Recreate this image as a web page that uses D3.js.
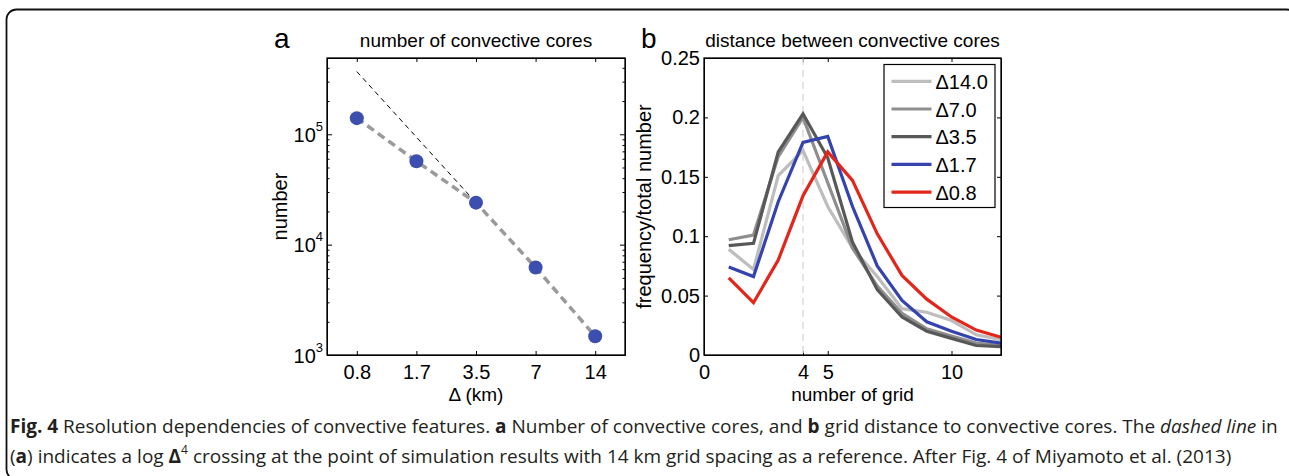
<!DOCTYPE html>
<html>
<head>
<meta charset="utf-8">
<script src="https://cdn.jsdelivr.net/npm/d3@7"></script>
<style>
  html, body { margin: 0; padding: 0; background: #fff; }
  svg { display: block; }
  .ax text { font-family: "Liberation Sans", Arial, sans-serif; font-size: 20px; fill: #000; }
  .ax line, .ax path { stroke: #000; stroke-width: 1; }
</style>
</head>
<body>
<div id="chart"></div>
<script>
// panel a: number of convective cores
const deltaKm = ['0.8', '1.7', '3.5', '7', '14'];
const coreCount = [1.40e5, 5.7e4, 2.4e4, 6.2e3, 1.48e3];
const refDelta = ['0.8', '3.5']; // black dashed reference
const refCount = [3.7e5, 2.4e4];
const logTicks = [1e3, 1e4, 1e5];

// panel b: distance between convective cores
const gridNum = [1, 2, 3, 4, 5, 6, 7, 8, 9, 10, 11, 12];
const seriesNames = ['\u039414.0', '\u03947.0', '\u03943.5', '\u03941.7', '\u03940.8'];
const seriesColors = ['#bdbdbd', '#8e8e8e', '#585858', '#3443ad', '#e2261b'];
const freq140 = [0.089, 0.072, 0.151, 0.172, 0.125, 0.090, 0.066, 0.039, 0.036, 0.029, 0.017, 0.013];
const freq70  = [0.097, 0.101, 0.167, 0.200, 0.145, 0.090, 0.058, 0.035, 0.022, 0.016, 0.010, 0.008];
const freq35  = [0.092, 0.094, 0.171, 0.203, 0.166, 0.095, 0.055, 0.032, 0.020, 0.014, 0.008, 0.007];
const freq17  = [0.074, 0.066, 0.129, 0.179, 0.184, 0.125, 0.075, 0.046, 0.028, 0.020, 0.013, 0.010];
const freq08  = [0.065, 0.044, 0.080, 0.134, 0.171, 0.147, 0.102, 0.067, 0.047, 0.032, 0.021, 0.015];
const freqAll = [freq140, freq70, freq35, freq17, freq08];
const xTicksB = [0, 4, 5, 10];
const yTicksB = [0, 0.05, 0.1, 0.15, 0.2, 0.25];

const W = 1289, H = 476;
const font = '"Liberation Sans", Arial, sans-serif';

const svg = d3.select('#chart').append('svg')
  .attr('width', W)
  .attr('height', H);

// card border
svg.append('rect')
  .attr('x', 6.5).attr('y', 9.5)
  .attr('width', 1290).attr('height', 470)
  .attr('rx', 10)
  .attr('fill', 'none')
  .attr('stroke', '#111')
  .attr('stroke-width', 1.8);

const A = {left: 327, right: 625, top: 58, bottom: 355};
const B = {left: 704, right: 1001, top: 58, bottom: 355};

// ---------- panel a ----------
const xA = d3.scalePoint().domain(deltaKm).range([A.left, A.right]).padding(0.5);
const yA = d3.scaleLog().domain([1e3, 4.91e5]).range([A.bottom, A.top]);

const gA = svg.append('g');

const minorA = [];
for (let e = 3; e < 6; e++) {
  for (let k = 2; k <= 9; k++) {
    const v = k * Math.pow(10, e);
    if (v < 4.91e5) minorA.push(v);
  }
}

gA.append('g').attr('class', 'ax')
  .attr('transform', `translate(0,${A.bottom})`)
  .call(d3.axisBottom(xA).tickSize(-4).tickSizeOuter(0).tickPadding(10));
gA.append('g').attr('class', 'ax')
  .attr('transform', `translate(0,${A.top})`)
  .call(d3.axisTop(xA).tickSize(-4).tickSizeOuter(0).tickFormat(''));
gA.append('g').attr('class', 'ax')
  .attr('transform', `translate(${A.left},0)`)
  .call(d3.axisLeft(yA).tickValues(logTicks).tickSize(-5).tickSizeOuter(0).tickFormat(''));
gA.append('g').attr('class', 'ax')
  .attr('transform', `translate(${A.left},0)`)
  .call(d3.axisLeft(yA).tickValues(minorA).tickSize(-2.5).tickSizeOuter(0).tickFormat(''));
gA.append('g').attr('class', 'ax')
  .attr('transform', `translate(${A.right},0)`)
  .call(d3.axisRight(yA).tickValues(logTicks).tickSize(-5).tickSizeOuter(0).tickFormat(''));
gA.append('g').attr('class', 'ax')
  .attr('transform', `translate(${A.right},0)`)
  .call(d3.axisRight(yA).tickValues(minorA).tickSize(-2.5).tickSizeOuter(0).tickFormat(''));

// 10^n labels
logTicks.forEach(function(v) {
  const t = gA.append('text')
    .attr('x', A.left - 4)
    .attr('y', yA(v) + 7.5)
    .attr('text-anchor', 'end')
    .attr('font-family', font)
    .attr('font-size', 20);
  t.append('tspan').text('10');
  t.append('tspan').attr('font-size', 13).attr('dy', -11).text(Math.round(Math.log10(v)));
});

gA.append('rect')
  .attr('x', A.left).attr('y', A.top)
  .attr('width', A.right - A.left).attr('height', A.bottom - A.top)
  .attr('fill', 'none').attr('stroke', '#000').attr('stroke-width', 1.3);

const lineA = d3.line()
  .x(function(d) { return xA(d[0]); })
  .y(function(d) { return yA(d[1]); });

gA.append('path')
  .datum(d3.zip(refDelta, refCount))
  .attr('d', lineA)
  .attr('fill', 'none')
  .attr('stroke', '#000')
  .attr('stroke-width', 1)
  .attr('stroke-dasharray', '5,4');

gA.append('path')
  .datum(d3.zip(deltaKm, coreCount))
  .attr('d', lineA)
  .attr('fill', 'none')
  .attr('stroke', '#9a9a9a')
  .attr('stroke-width', 3.5)
  .attr('stroke-dasharray', '8,5');

gA.selectAll('circle.pt')
  .data(d3.zip(deltaKm, coreCount))
  .enter().append('circle')
  .attr('class', 'pt')
  .attr('cx', function(d) { return xA(d[0]); })
  .attr('cy', function(d) { return yA(d[1]); })
  .attr('r', 7)
  .attr('fill', '#3d4fae');

gA.append('text')
  .attr('x', (A.left + A.right) / 2).attr('y', 47)
  .attr('text-anchor', 'middle')
  .attr('font-family', font).attr('font-size', 19)
  .text('number of convective cores');
gA.append('text')
  .attr('x', 274).attr('y', 48)
  .attr('font-family', font).attr('font-size', 28)
  .text('a');
gA.append('text')
  .attr('x', (A.left + A.right) / 2).attr('y', 400.5)
  .attr('text-anchor', 'middle')
  .attr('font-family', font).attr('font-size', 19)
  .text('\u0394 (km)');
gA.append('text')
  .attr('transform', `translate(287,${(A.top + A.bottom) / 2}) rotate(-90)`)
  .attr('text-anchor', 'middle')
  .attr('font-family', font).attr('font-size', 20)
  .text('number');

// ---------- panel b ----------
const xB = d3.scaleLinear().domain([0, 12]).range([B.left, B.right]);
const yB = d3.scaleLinear().domain([0, 0.25]).range([B.bottom, B.top]);

const gB = svg.append('g');

gB.append('g').attr('class', 'ax')
  .attr('transform', `translate(0,${B.bottom})`)
  .call(d3.axisBottom(xB).tickValues(xTicksB).tickSize(-4).tickSizeOuter(0).tickPadding(10).tickFormat(d3.format('d')));
gB.append('g').attr('class', 'ax')
  .attr('transform', `translate(0,${B.top})`)
  .call(d3.axisTop(xB).tickValues(xTicksB).tickSize(-4).tickSizeOuter(0).tickFormat(''));
gB.append('g').attr('class', 'ax')
  .attr('transform', `translate(${B.left},0)`)
  .call(d3.axisLeft(yB).tickValues(yTicksB).tickSize(-4).tickSizeOuter(0).tickPadding(4)
    .tickFormat(function(d) { return d === 0 ? '0' : String(d); }));
gB.append('g').attr('class', 'ax')
  .attr('transform', `translate(${B.right},0)`)
  .call(d3.axisRight(yB).tickValues(yTicksB).tickSize(-4).tickSizeOuter(0).tickFormat(''));

// dashed guide at 4 grids
gB.append('line')
  .attr('x1', xB(4)).attr('x2', xB(4))
  .attr('y1', yB(0.25)).attr('y2', yB(0))
  .attr('stroke', '#dcdcdc')
  .attr('stroke-width', 1.5)
  .attr('stroke-dasharray', '7,5');

const lineB = d3.line()
  .x(function(d) { return xB(d[0]); })
  .y(function(d) { return yB(d[1]); });

freqAll.forEach(function(vals, i) {
  gB.append('path')
    .datum(d3.zip(gridNum, vals))
    .attr('d', lineB)
    .attr('fill', 'none')
    .attr('stroke', seriesColors[i])
    .attr('stroke-width', 3.2)
    .attr('stroke-linejoin', 'miter');
});

gB.append('rect')
  .attr('x', B.left).attr('y', B.top)
  .attr('width', B.right - B.left).attr('height', B.bottom - B.top)
  .attr('fill', 'none').attr('stroke', '#000').attr('stroke-width', 1.3);

// legend
const leg = gB.append('g');
leg.append('rect')
  .attr('x', 884).attr('y', 64.5)
  .attr('width', 111).attr('height', 143)
  .attr('fill', '#fff').attr('stroke', '#000').attr('stroke-width', 1.2);
seriesNames.forEach(function(name, i) {
  const cy = 81.3 + i * 27.7;
  leg.append('line')
    .attr('x1', 891.5).attr('x2', 931.5)
    .attr('y1', cy).attr('y2', cy)
    .attr('stroke', seriesColors[i]).attr('stroke-width', 3.2);
  leg.append('text')
    .attr('x', 935.5).attr('y', cy + 7.5)
    .attr('font-family', font).attr('font-size', 20)
    .text(name);
});

gB.append('text')
  .attr('x', (B.left + B.right) / 2).attr('y', 47)
  .attr('text-anchor', 'middle')
  .attr('font-family', font).attr('font-size', 19)
  .text('distance between convective cores');
gB.append('text')
  .attr('x', 641).attr('y', 48)
  .attr('font-family', font).attr('font-size', 28)
  .text('b');
gB.append('text')
  .attr('x', (B.left + B.right) / 2).attr('y', 400.5)
  .attr('text-anchor', 'middle')
  .attr('font-family', font).attr('font-size', 19)
  .text('number of grid');
gB.append('text')
  .attr('transform', `translate(651,${(B.top + B.bottom) / 2}) rotate(-90)`)
  .attr('text-anchor', 'middle')
  .attr('font-family', font).attr('font-size', 20)
  .text('frequency/total number');

// ---------- caption ----------
const cap = svg.append('g')
  .attr('font-family', '"Open Sans", sans-serif')
  .attr('font-size', 19)
  .attr('fill', '#231f20');

const c1 = cap.append('text').attr('x', 10).attr('y', 432.5);
c1.append('tspan').attr('font-weight', 'bold').text('Fig. 4');
c1.append('tspan').text(' Resolution dependencies of convective features. ');
c1.append('tspan').attr('font-weight', 'bold').text('a');
c1.append('tspan').text(' Number of convective cores, and ');
c1.append('tspan').attr('font-weight', 'bold').text('b');
c1.append('tspan').text(' grid distance to convective cores. The ');
c1.append('tspan').attr('font-style', 'italic').text('dashed line');
c1.append('tspan').text(' in');

const c2 = cap.append('text').attr('x', 10).attr('y', 462.5);
c2.append('tspan').text('(');
c2.append('tspan').attr('font-weight', 'bold').text('a');
c2.append('tspan').text(') indicates a log ');
c2.append('tspan').attr('font-weight', 'bold').text('\u0394');
c2.append('tspan').attr('font-size', 12).attr('dy', -9).text('4');
c2.append('tspan').attr('dy', 9).text(' crossing at the point of simulation results with 14 km grid spacing as a reference. After Fig. 4 of Miyamoto et al. (2013)');
</script>
</body>
</html>
